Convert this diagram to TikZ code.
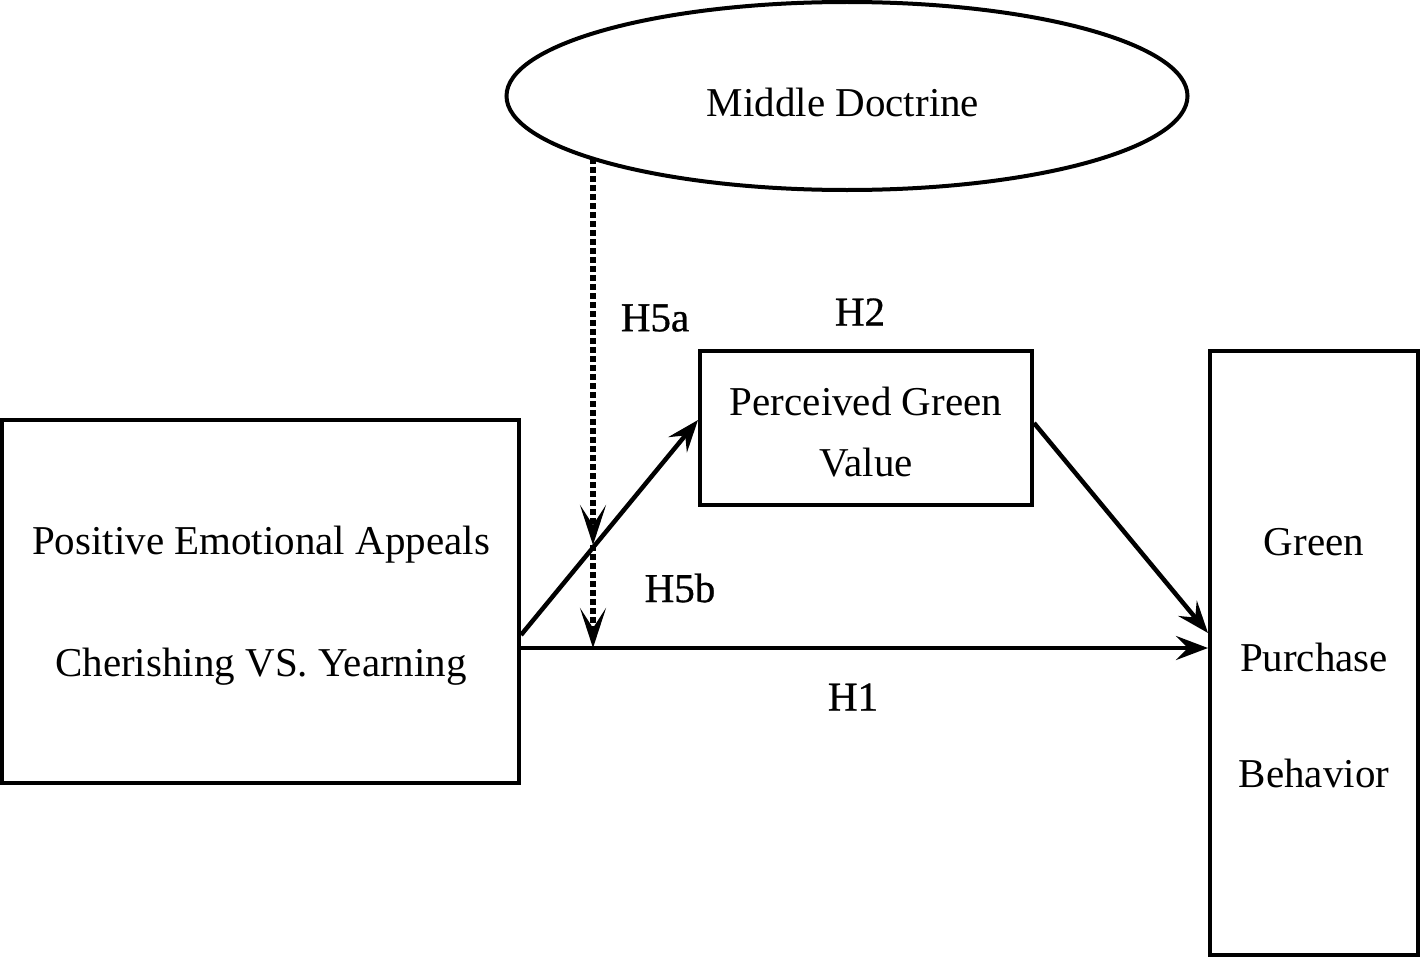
\documentclass[tikz,border=0pt]{standalone}
\usepackage{fontspec}
\setmainfont{Liberation Serif}
\newfontfamily\hfont[FakeBold=0.8]{Liberation Serif}
\usetikzlibrary{shapes.geometric,arrows.meta}
\tikzset{
  box/.style={draw, line width=4pt, inner sep=0pt},
  txt/.style={inner sep=0pt, align=center},
  lbl/.style={font=\hfont\fontsize{41}{41}\selectfont, inner sep=0pt},
  conn/.style={line width=4.5pt, -{Stealth[length=32pt,width=24pt,inset=12pt]}},
  dotconn/.style={line width=6pt, dash pattern=on 6pt off 3pt, -{Stealth[length=40pt,width=26pt,inset=20pt]}}
}
\begin{document}
\begin{tikzpicture}[x=1pt,y=-1pt]
\useasboundingbox (0,0) rectangle (1421,958);
\node[box, ellipse, minimum width=681pt, minimum height=188pt] (M) at (847,96) {};
\node[txt, font=\fontsize{41}{41}\selectfont] (Mt) at (843,102) {Middle Doctrine};
\node[box, minimum width=517pt, minimum height=363pt] (L) at (260.5,601.5) {};
\node[txt, font=\fontsize{41}{122}\selectfont] (Lt) at (261,606) {Positive Emotional Appeals\\Cherishing VS. Yearning};
\node[box, minimum width=332pt, minimum height=154pt] (P) at (866,428) {};
\node[txt, font=\fontsize{41}{61}\selectfont] (Pt) at (866,432) {Perceived Green\\Value};
\node[box, minimum width=208pt, minimum height=604pt] (G) at (1314,653) {};
\node[txt, font=\fontsize{41}{116}\selectfont] (Gt) at (1314,658) {Green\\Purchase\\Behavior};
\node[lbl] (h5a) at (655,318) {H5a};
\node[lbl] (h2) at (860,312) {H2};
\node[lbl] (h5b) at (680,588) {H5b};
\node[lbl] (h1) at (853,697) {H1};
\coordinate (d0) at (593,158);
\coordinate (d1) at (593,545);
\coordinate (d2) at (593,648);
\draw[conn] ([yshift=-33.5pt]L.east) -- ([yshift=8pt]P.west);
\draw[conn] ([yshift=-46.5pt]L.east) -- ([yshift=-46.5pt]L.east -| G.west);
\draw[conn] ([yshift=5pt]P.east) -- ([yshift=20pt]G.west);
\draw[dotconn] (d0) -- (d1);
\draw[dotconn] (d1) -- (d2);
\end{tikzpicture}
\end{document}
